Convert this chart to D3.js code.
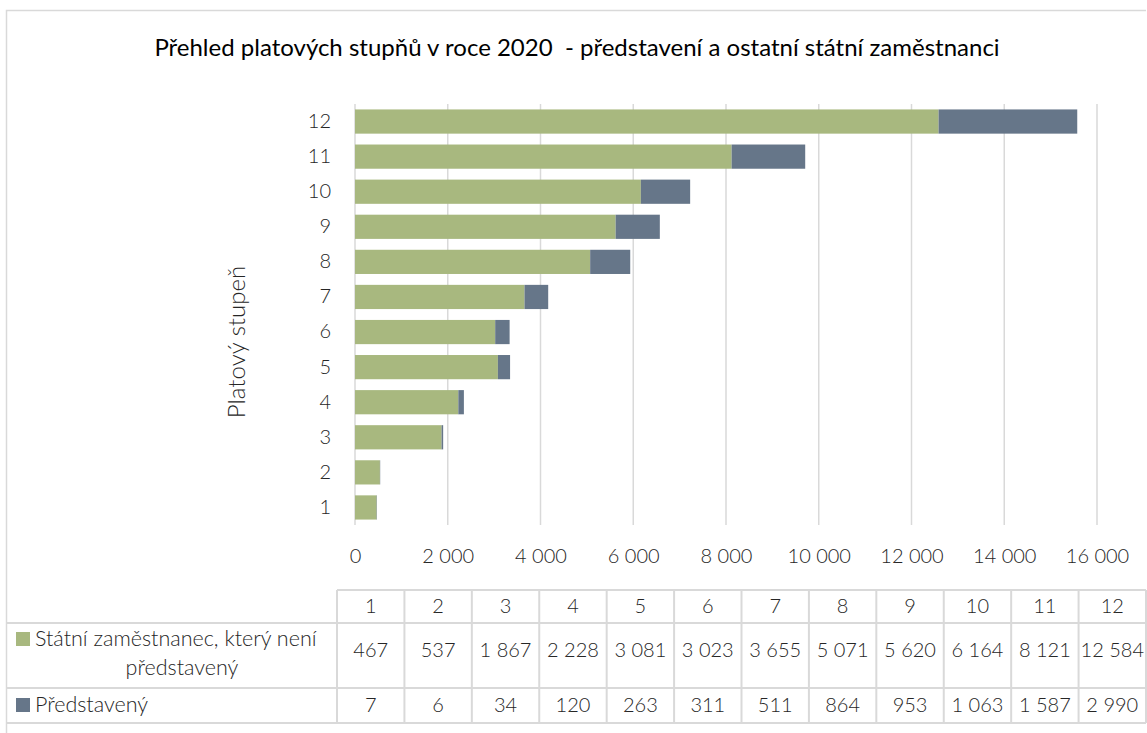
<!DOCTYPE html>
<html><head><meta charset="utf-8">
<script src="https://cdn.jsdelivr.net/npm/d3@7"></script>
<style>
html,body{margin:0;padding:0;background:#fff;}
svg text{font-family:Lato,"Open Sans",sans-serif;font-weight:300;}
svg text.title{font-weight:400;}
</style></head>
<body><svg id="c" width="1147" height="733"></svg>
<script>
const categories = ["1","2","3","4","5","6","7","8","9","10","11","12"];
const seriesNames = ["Státní zaměstnanec, který není představený","Představený"];
const ostatni = [467,537,1867,2228,3081,3023,3655,5071,5620,6164,8121,12584];
const predstaveni = [7,6,34,120,263,311,511,864,953,1063,1587,2990];
const xTicks = [0,2000,4000,6000,8000,10000,12000,14000,16000];
const colors = ["#A8B87F","#667689"];
const titleText = "Přehled platových stupňů v roce 2020  - představení a ostatní státní zaměstnanci";
const yTitle = "Platový stupeň";

const fmt = d3.formatLocale({decimal:",",thousands:" ",grouping:[3],currency:["",""]}).format(",d");
const svg = d3.select("#c");
const grid = "#d9d9d9", txt = "#262626";
const fs = 20, lfs = 21.5;

// frame
svg.append("path").attr("d","M6.5,733 V10.5 H1146").attr("fill","none").attr("stroke",grid).attr("stroke-width",1.5);

svg.append("text").attr("class","title").attr("x",577).attr("y",56).attr("text-anchor","middle")
  .style("white-space","pre").attr("font-size",24).attr("fill","#000").text(titleText);

const x = d3.scaleLinear().domain([0,16000]).range([355,1097]);
const y = d3.scaleBand().domain(categories.slice().reverse()).range([104,525]).paddingInner(0.31).paddingOuter(0.155);

// gridlines
svg.append("g").selectAll("line").data(xTicks).join("line")
  .attr("x1",d=>x(d)).attr("x2",d=>x(d)).attr("y1",104).attr("y2",525)
  .attr("stroke",grid).attr("stroke-width",1.5);

const stackData = categories.map((c,i)=>({cat:c,a:ostatni[i],b:predstaveni[i]}));
const stack = d3.stack().keys(["a","b"])(stackData);
svg.append("g").selectAll("g").data(stack).join("g").attr("fill",(d,i)=>colors[i])
  .selectAll("rect").data(d=>d).join("rect")
  .attr("x",d=>x(d[0])).attr("width",d=>x(d[1])-x(d[0]))
  .attr("y",d=>y(d.data.cat)).attr("height",y.bandwidth());

// x axis labels
const xa = svg.append("g").attr("transform","translate(0,525)")
  .call(d3.axisBottom(x).tickValues(xTicks).tickFormat(fmt).tickSize(0).tickPadding(24));
xa.select(".domain").remove();
xa.selectAll("text").attr("font-size",fs).attr("fill",txt).attr("font-family","Lato");

// y axis labels
const ya = svg.append("g").attr("transform","translate(355,0)")
  .call(d3.axisLeft(y).tickSize(0).tickPadding(24));
ya.select(".domain").remove();
ya.selectAll("text").attr("font-size",fs).attr("fill",txt).attr("font-family","Lato");

svg.append("text").attr("transform","translate(245,342) rotate(-90)").attr("text-anchor","middle")
  .attr("font-size",24).attr("fill",txt).text(yTitle);

// data table
const tx = d3.scaleBand().domain(categories).range([337,1146]);
const rows = [590,623,688,723];
const tg = svg.append("g");
tg.append("line").attr("x1",337).attr("x2",1146).attr("y1",rows[0]).attr("y2",rows[0]).attr("stroke",grid).attr("stroke-width",2);
rows.slice(1).forEach(r=>tg.append("line").attr("x1",6).attr("x2",1146).attr("y1",r).attr("y2",r).attr("stroke",grid).attr("stroke-width",2));
categories.forEach(c=>tg.append("line").attr("x1",tx(c)).attr("x2",tx(c)).attr("y1",rows[0]).attr("y2",rows[3]).attr("stroke",grid).attr("stroke-width",2));
tg.append("line").attr("x1",1146).attr("x2",1146).attr("y1",rows[0]).attr("y2",rows[3]).attr("stroke",grid).attr("stroke-width",2);

tg.selectAll("text.h").data(categories).join("text").attr("class","h")
  .attr("x",d=>tx(d)+tx.bandwidth()/2).attr("y",613).attr("text-anchor","middle")
  .attr("font-size",fs).attr("fill",txt).text(d=>d);
tg.selectAll("text.a").data(ostatni).join("text").attr("class","a")
  .attr("x",(d,i)=>tx(categories[i])+tx.bandwidth()/2).attr("y",657).attr("text-anchor","middle")
  .attr("font-size",fs).attr("fill",txt).text(d=>fmt(d));
tg.selectAll("text.b").data(predstaveni).join("text").attr("class","b")
  .attr("x",(d,i)=>tx(categories[i])+tx.bandwidth()/2).attr("y",712).attr("text-anchor","middle")
  .attr("font-size",fs).attr("fill",txt).text(d=>fmt(d));

// legend keys
tg.append("rect").attr("x",16).attr("y",632).attr("width",14).attr("height",14).attr("fill",colors[0]);
tg.append("text").attr("x",35).attr("y",646).attr("font-size",lfs).attr("fill",txt).text("Státní zaměstnanec, který není");
tg.append("text").attr("x",182).attr("y",675).attr("text-anchor","middle").attr("font-size",lfs).attr("fill",txt).text("představený");
tg.append("rect").attr("x",16).attr("y",698).attr("width",14).attr("height",14).attr("fill",colors[1]);
tg.append("text").attr("x",35).attr("y",712).attr("font-size",lfs).attr("fill",txt).text(seriesNames[1]);
</script></body></html>
